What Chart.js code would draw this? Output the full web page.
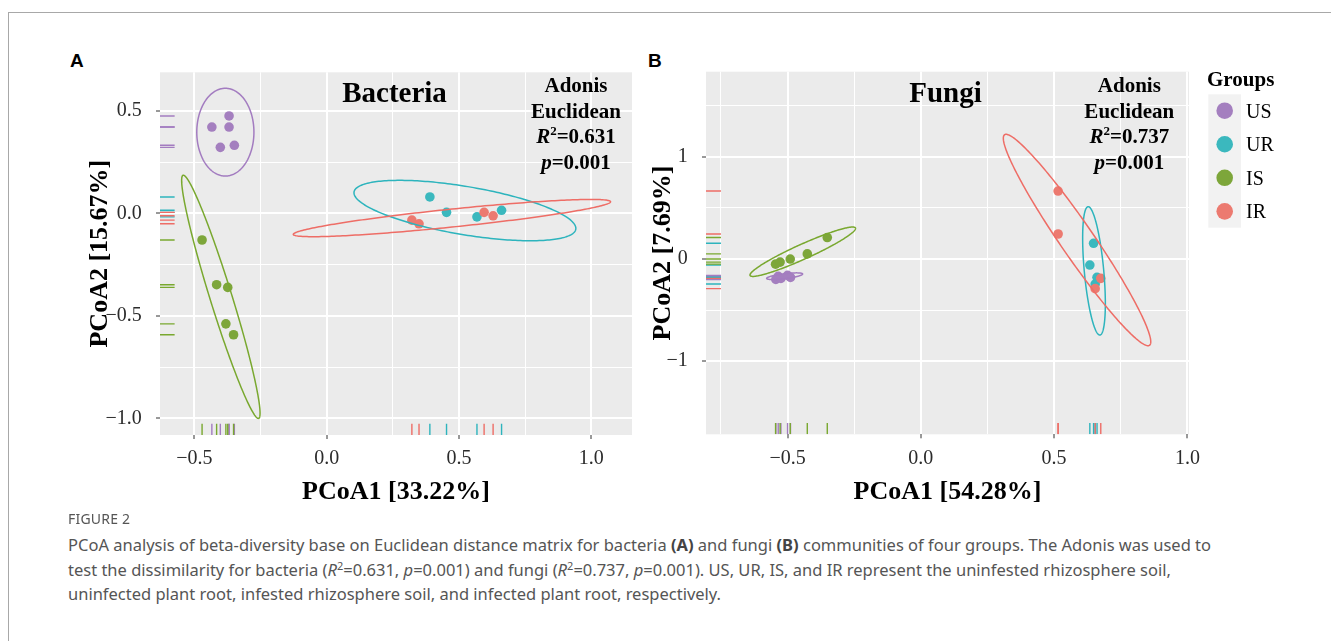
<!DOCTYPE html>
<html>
<head>
<meta charset="utf-8">
<script src="https://cdn.jsdelivr.net/npm/chart.js@4.4.1/dist/chart.umd.min.js"></script>
<style>
  html, body { margin:0; padding:0; background:#ffffff; width:1331px; height:641px; overflow:hidden; }
  body { position:relative; }
  #frame { position:absolute; left:8px; top:12px; width:1323px; height:629px; border-top:1px solid #a8a8a8; border-left:1px solid #a8a8a8; box-sizing:border-box; }
  .plabel { position:absolute; font-family:"Liberation Sans", Arial, sans-serif; font-weight:bold; font-size:19px; color:#000; line-height:1; }
  canvas { position:absolute; top:0; }
  #chartA { left:0; }
  #chartB { left:640px; }
  #fig { position:absolute; left:68px; top:509px; font-family:"Noto Sans", sans-serif; font-size:14px; color:#555; letter-spacing:0.2px; }
  #cap { position:absolute; left:68px; top:533px; font-family:"Noto Sans", sans-serif; font-size:16.5px; line-height:24.5px; color:#555; white-space:nowrap; }
  #cap b { color:#444; }
  #cap sup { font-size:11px; line-height:0; }
</style>
</head>
<body>
<div id="frame"></div>
<div class="plabel" style="left:70px; top:51px;">A</div>
<div class="plabel" style="left:648px; top:51px;">B</div>
<canvas id="chartA" width="640" height="510"></canvas>
<canvas id="chartB" width="691" height="510"></canvas>
<div id="fig">FIGURE 2</div>
<div id="cap">PCoA analysis of beta-diversity base on Euclidean distance matrix for bacteria <b>(A)</b> and fungi <b>(B)</b> communities of four groups. The Adonis was used to<br>test the dissimilarity for bacteria (<i>R</i><sup>2</sup>=0.631, <i>p</i>=0.001) and fungi (<i>R</i><sup>2</sup>=0.737, <i>p</i>=0.001). US, UR, IS, and IR represent the uninfested rhizosphere soil,<br>uninfected plant root, infested rhizosphere soil, and infected plant root, respectively.</div>
<script>
// ---------------- DATA ----------------
const GROUPS = ['US', 'UR', 'IS', 'IR'];

// Panel A: Bacteria (PCoA1, PCoA2)
const A_US_X = [-0.434, -0.369, -0.369, -0.402, -0.349];
const A_US_Y = [0.421, 0.475, 0.421, 0.322, 0.332];
const A_UR_X = [0.390, 0.453, 0.568, 0.661];
const A_UR_Y = [0.080, 0.005, -0.017, 0.015];
const A_IS_X = [-0.471, -0.416, -0.374, -0.381, -0.352];
const A_IS_Y = [-0.130, -0.348, -0.361, -0.539, -0.592];
const A_IR_X = [0.322, 0.349, 0.595, 0.629];
const A_IR_Y = [-0.033, -0.051, 0.005, -0.012];
// confidence ellipses: [centreX, centreY, axis1X, axis1Y, axis2X, axis2Y]
const A_ELL_US = [-0.383, 0.396, 0.108, 0.0, 0.0, 0.214];
const A_ELL_UR = [0.5225, 0.0137, 0.4193, -0.0868, 0.0, 0.119];
const A_ELL_IS = [-0.400, -0.407, 0.1417, -0.5932, 0.0434, 0.0];
const A_ELL_IR = [0.4734, -0.0229, 0.5996, 0.0795, 0.0, 0.0439];

// Panel B: Fungi
const B_US_X = [-0.544, -0.535, -0.525, -0.500, -0.489];
const B_US_Y = [-0.200, -0.170, -0.190, -0.160, -0.180];
const B_UR_X = [0.648, 0.634, 0.661, 0.654];
const B_UR_Y = [0.154, -0.059, -0.179, -0.245];
const B_IS_X = [-0.545, -0.528, -0.490, -0.426, -0.351];
const B_IS_Y = [-0.050, -0.030, 0.000, 0.050, 0.210];
const B_IR_X = [0.515, 0.515, 0.675, 0.654];
const B_IR_Y = [0.665, 0.245, -0.189, -0.290];
const B_ELL_US = [-0.511, -0.168, 0.0675, 0.0215, 0.0, 0.0245];
const B_ELL_UR = [0.6496, -0.1155, 0.0217, -0.628, 0.0366, 0.0];
const B_ELL_IS = [-0.443, 0.0714, 0.198, 0.228, 0.0, 0.080];
const B_ELL_IR = [0.586, 0.186, 0.2662, -1.0342, 0.075, 0.0];

// Axis ticks
const A_X_TICKS = [-0.5, 0.0, 0.5, 1.0];
const A_X_TICK_LABELS = ['\u22120.5', '0.0', '0.5', '1.0'];
const A_X_MINOR = [-0.25, 0.25, 0.75];
const A_Y_TICKS = [-1.0, -0.5, 0.0, 0.5];
const A_Y_TICK_LABELS = ['\u22121.0', '\u22120.5', '0.0', '0.5'];
const A_Y_MINOR = [-0.75, -0.25, 0.25];
const B_X_TICKS = [-0.5, 0.0, 0.5, 1.0];
const B_X_TICK_LABELS = ['\u22120.5', '0.0', '0.5', '1.0'];
const B_X_MINOR = [-0.75, -0.25, 0.25, 0.75];
const B_Y_TICKS = [-1, 0, 1];
const B_Y_TICK_LABELS = ['\u22121', '0', '1'];
const B_Y_MINOR = [-0.5, 0.5, 1.5];

// Annotation texts
const A_TITLE = 'Bacteria', A_R2 = '0.631', A_P = '0.001';
const B_TITLE = 'Fungi', B_R2 = '0.737', B_P = '0.001';
const A_XLABEL = 'PCoA1 [33.22%]', A_YLABEL = 'PCoA2 [15.67%]';
const B_XLABEL = 'PCoA1 [54.28%]', B_YLABEL = 'PCoA2 [7.69%]';
const LEGEND_TITLE = 'Groups';

// ---------------- STYLE ----------------
const POINT_COLORS = ['#A47FBF', '#3BB8BE', '#7DA63A', '#EC7A70'];
const LINE_COLORS  = ['#A37CC0', '#2DB4BD', '#79A82F', '#EE6D66'];
const SERIF = '"Liberation Serif", "Times New Roman", serif';

function pts(xs, ys) { return xs.map((x, i) => ({ x: x, y: ys[i] })); }

function makeAxis(o) {
  const isMajor = (v) => o.major.some(m => Math.abs(m - v) < 1e-9);
  return {
    type: 'linear', position: o.position, min: o.min, max: o.max,
    afterBuildTicks: (s) => { s.ticks = o.major.concat(o.minor).sort((a, b) => a - b).map(v => ({ value: v })); },
    afterFit: (s) => { if (o.position === 'left') s.width = o.size; else s.height = o.size; },
    ticks: {
      autoSkip: false, maxRotation: 0, minRotation: 0, padding: o.tickPad, color: '#2b2b2b',
      font: { family: SERIF, size: 20 },
      callback: (v) => { const k = o.major.findIndex(m => Math.abs(m - v) < 1e-9); return k < 0 ? '' : o.labels[k]; }
    },
    grid: {
      color: '#ffffff',
      lineWidth: (c) => (c.tick && isMajor(c.tick.value)) ? 2 : 1,
      drawTicks: true, tickLength: 4, tickWidth: 1,
      tickColor: (c) => (c.tick && isMajor(c.tick.value)) ? '#333333' : 'rgba(0,0,0,0)'
    },
    border: { display: false },
    title: { display: true, text: o.title, color: '#000', font: { family: SERIF, size: 26, weight: 'bold' }, padding: o.titlePad }
  };
}

const panelBg = {
  id: 'panelBg',
  beforeDraw(chart) {
    const { ctx, chartArea: a } = chart;
    ctx.save(); ctx.fillStyle = '#EBEBEB';
    ctx.fillRect(a.left, a.top, a.right - a.left, a.bottom - a.top);
    ctx.restore();
  }
};

const overlay = {
  id: 'overlay',
  afterDatasetsDraw(chart) {
    const { ctx, chartArea: a, scales } = chart;
    const xs = scales.x, ys = scales.y;
    ctx.save();
    ctx.beginPath(); ctx.rect(a.left, a.top, a.right - a.left, a.bottom - a.top); ctx.clip();
    const lenX = (a.right - a.left) * 0.031, lenY = (a.bottom - a.top) * 0.031;
    chart.data.datasets.forEach((ds) => {
      // rugs
      ctx.strokeStyle = ds.lineColor; ctx.lineWidth = 1.4;
      ds.data.forEach(p => {
        const px = xs.getPixelForValue(p.x), py = ys.getPixelForValue(p.y);
        ctx.beginPath(); ctx.moveTo(a.left, py); ctx.lineTo(a.left + lenX, py); ctx.stroke();
        ctx.beginPath(); ctx.moveTo(px, a.bottom); ctx.lineTo(px, a.bottom - lenY); ctx.stroke();
      });
      // ellipse
      const e = ds.ellipse;
      ctx.beginPath();
      for (let k = 0; k <= 240; k++) {
        const t = k / 240 * 2 * Math.PI;
        const px = xs.getPixelForValue(e[0] + e[2] * Math.cos(t) + e[4] * Math.sin(t));
        const py = ys.getPixelForValue(e[1] + e[3] * Math.cos(t) + e[5] * Math.sin(t));
        if (k === 0) ctx.moveTo(px, py); else ctx.lineTo(px, py);
      }
      ctx.closePath(); ctx.lineWidth = 1.5; ctx.stroke();
    });
    ctx.restore();
  }
};

function drawSegs(ctx, segs, cx, y) {
  let w = 0;
  segs.forEach(s => { ctx.font = s.f; s.w = ctx.measureText(s.t).width; w += s.w; });
  let x = cx - w / 2;
  ctx.textAlign = 'left';
  segs.forEach(s => { ctx.font = s.f; ctx.fillText(s.t, x, y + (s.dy || 0)); x += s.w; });
}

const annot = {
  id: 'annot',
  afterDraw(chart, args, o) {
    const { ctx, chartArea: a } = chart;
    ctx.save();
    ctx.fillStyle = '#000'; ctx.textBaseline = 'alphabetic'; ctx.textAlign = 'center';
    ctx.font = `bold 29px ${SERIF}`;
    ctx.fillText(o.title, a.left + o.titleDx, a.top + o.titleDy);
    const sx = a.left + o.statsDx;
    ctx.font = `bold 21px ${SERIF}`;
    ctx.fillText('Adonis', sx, a.top + 20);
    ctx.fillText('Euclidean', sx, a.top + 46);
    drawSegs(ctx, [
      { t: 'R', f: `italic bold 21px ${SERIF}` },
      { t: '2', f: `bold 13px ${SERIF}`, dy: -8 },
      { t: '=' + o.r2, f: `bold 21px ${SERIF}` }
    ], sx, a.top + 71);
    drawSegs(ctx, [
      { t: 'p', f: `italic bold 21px ${SERIF}` },
      { t: '=' + o.p, f: `bold 21px ${SERIF}` }
    ], sx, a.top + 97);
    ctx.restore();
  }
};

const groupLegend = {
  id: 'groupLegend',
  afterDraw(chart, args, o) {
    if (!o.show) return;
    const { ctx, chartArea: a } = chart;
    const x0 = a.right + 19.3;
    ctx.save();
    ctx.fillStyle = '#F2F2F2';
    ctx.fillRect(x0, 94.3, 32.7, 133.4);
    ctx.fillStyle = '#000'; ctx.textAlign = 'left'; ctx.textBaseline = 'alphabetic';
    ctx.font = `bold 21px ${SERIF}`;
    ctx.fillText(LEGEND_TITLE, a.right + 18, 86);
    chart.data.datasets.forEach((ds, i) => {
      const cy = 110.7 + i * 33.55;
      ctx.beginPath(); ctx.arc(x0 + 16.4, cy, 8.3, 0, Math.PI * 2);
      ctx.fillStyle = ds.backgroundColor; ctx.fill();
      ctx.fillStyle = '#000'; ctx.font = `20px ${SERIF}`;
      ctx.fillText(ds.label, a.right + 57, cy + 6.8);
    });
    ctx.restore();
  }
};

function buildChart(id, cfg) {
  const datasets = GROUPS.map((g, i) => ({
    label: g,
    data: pts(cfg.xs[i], cfg.ys[i]),
    backgroundColor: POINT_COLORS[i],
    borderWidth: 0,
    pointRadius: 4.8,
    pointHoverRadius: 4.8,
    order: GROUPS.length - i,
    ellipse: cfg.ell[i],
    lineColor: LINE_COLORS[i]
  }));
  return new Chart(document.getElementById(id), {
    type: 'scatter',
    data: { datasets },
    options: {
      responsive: false, animation: false, devicePixelRatio: 1,
      layout: { padding: cfg.padding },
      events: [],
      plugins: {
        legend: { display: false }, tooltip: { enabled: false },
        annot: cfg.annot,
        groupLegend: { show: cfg.legend }
      },
      scales: { x: makeAxis(cfg.x), y: makeAxis(cfg.y) }
    },
    plugins: [panelBg, overlay, annot, groupLegend]
  });
}

buildChart('chartA', {
  xs: [A_US_X, A_UR_X, A_IS_X, A_IR_X],
  ys: [A_US_Y, A_UR_Y, A_IS_Y, A_IR_Y],
  ell: [A_ELL_US, A_ELL_UR, A_ELL_IS, A_ELL_IR],
  padding: { left: 0, top: 72.3, right: 8, bottom: 0 },
  legend: false,
  annot: { title: A_TITLE, titleDx: 234.5, titleDy: 29.4, statsDx: 416, r2: A_R2, p: A_P },
  x: { position: 'bottom', min: -0.63, max: 1.154, major: A_X_TICKS, labels: A_X_TICK_LABELS, minor: A_X_MINOR,
       size: 75, tickPad: 8, title: A_XLABEL, titlePad: { top: 0, bottom: 2.4 } },
  y: { position: 'left', min: -1.081, max: 0.688, major: A_Y_TICKS, labels: A_Y_TICK_LABELS, minor: A_Y_MINOR,
       size: 160, tickPad: 14.3, title: A_YLABEL, titlePad: { top: 84.9, bottom: 0 } }
});

buildChart('chartB', {
  xs: [B_US_X, B_UR_X, B_IS_X, B_IR_X],
  ys: [B_US_Y, B_UR_Y, B_IS_Y, B_IR_Y],
  ell: [B_ELL_US, B_ELL_UR, B_ELL_IS, B_ELL_IR],
  padding: { left: 0, top: 71.7, right: 142, bottom: 0 },
  legend: true,
  annot: { title: B_TITLE, titleDx: 239.5, titleDy: 30, statsDx: 423.3, r2: B_R2, p: B_P },
  x: { position: 'bottom', min: -0.806, max: 1.006, major: B_X_TICKS, labels: B_X_TICK_LABELS, minor: B_X_MINOR,
       size: 75.7, tickPad: 8, title: B_XLABEL, titlePad: { top: 0, bottom: 2.4 } },
  y: { position: 'left', min: -1.715, max: 1.833, major: B_Y_TICKS, labels: B_Y_TICK_LABELS, minor: B_Y_MINOR,
       size: 66, tickPad: 14.3, title: B_YLABEL, titlePad: { top: 7.4, bottom: 0 } }
});
</script>
</body>
</html>
